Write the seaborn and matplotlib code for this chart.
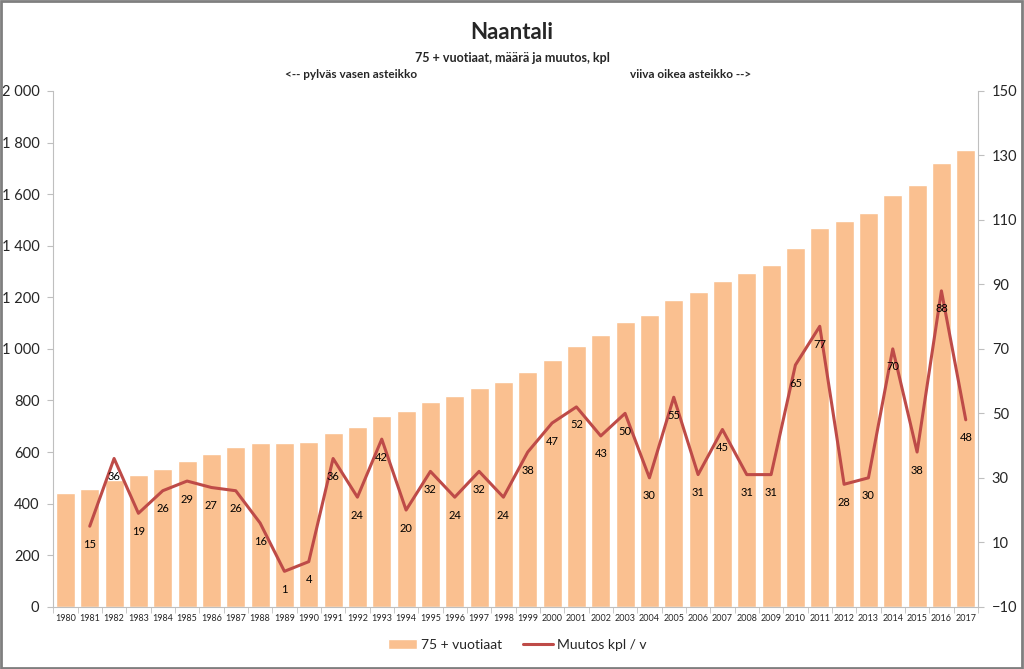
import matplotlib
matplotlib.use("Agg")
import matplotlib.pyplot as plt
import matplotlib.ticker as mticker
from matplotlib.patches import Rectangle
import seaborn as sns
import pandas as pd

# data
years = [str(y) for y in range(1980, 2018)]
count_75 = [440, 455, 491, 510, 536, 565, 592, 618, 634, 635,
            639, 675, 699, 741, 761, 793, 817, 849, 873, 911,
            958, 1010, 1053, 1103, 1133, 1188, 1219, 1264, 1295, 1326,
            1391, 1468, 1496, 1526, 1596, 1634, 1722, 1770]
change_years = years[1:]
change = [15, 36, 19, 26, 29, 27, 26, 16, 1, 4,
          36, 24, 42, 20, 32, 24, 32, 24, 38, 47,
          52, 43, 50, 30, 55, 31, 45, 31, 31, 65,
          77, 28, 30, 70, 38, 88, 48]

bar_color = '#FAC090'
line_color = '#BE4B48'
grey = '#BFBFBF'

sns.set_style("white")
plt.rcParams['font.family'] = ['Lato', 'DejaVu Sans']

df_bar = pd.DataFrame({'year': years, 'count': count_75})
df_line = pd.DataFrame({'pos': [years.index(y) for y in change_years], 'change': change})

fig = plt.figure(figsize=(10.24, 6.69), dpi=100)
ax = fig.add_axes([0.052, 0.093, 0.903, 0.771])

sns.barplot(data=df_bar, x='year', y='count', color=bar_color, width=0.78,
            saturation=1, ax=ax, label='75 + vuotiaat')
if ax.get_legend() is not None:
    ax.get_legend().remove()
ax.set_ylim(0, 2000)
ax.set_xlim(-0.5, len(years) - 0.5)
ax.set_yticks(range(0, 2001, 200))
ax.yaxis.set_major_formatter(mticker.FuncFormatter(lambda v, p: f"{int(v):,}".replace(',', ' ')))
ax.set_xlabel('')
ax.set_ylabel('')
ax.tick_params(axis='y', labelsize=10.5, length=4, color=grey, direction='out', left=True, pad=6)
ax.tick_params(axis='x', labelsize=6.5, length=0, pad=5)
ax.set_xticks([i + 0.5 for i in range(-1, len(years))], minor=True)
ax.tick_params(axis='x', which='minor', length=4, color=grey, bottom=True, direction='out')

ax2 = ax.twinx()
sns.lineplot(data=df_line, x='pos', y='change', color=line_color, linewidth=2.2,
             ax=ax2, label='Muutos kpl / v', legend=False)
ax2.set_ylim(-10, 150)
ax2.set_yticks(range(-10, 151, 20))
ax2.set_ylabel('')
ax2.tick_params(axis='y', labelsize=10.5, length=4, color=grey, direction='out', right=True, pad=6)
for p, v in zip(df_line['pos'], df_line['change']):
    ax2.annotate(str(v), (p, v), xytext=(0, -13), textcoords='offset points',
                 ha='center', va='center', fontsize=8, color='black')

for a in (ax, ax2):
    for s in a.spines.values():
        s.set_visible(False)
ax.spines['left'].set_visible(True)
ax.spines['left'].set_color(grey)
ax.spines['bottom'].set_visible(True)
ax.spines['bottom'].set_color(grey)
ax2.spines['right'].set_visible(True)
ax2.spines['right'].set_color(grey)

# legend
h1, l1 = ax.get_legend_handles_labels()
h2, l2 = ax2.get_legend_handles_labels()
fig.legend(h1 + h2, l1 + l2, loc='center', bbox_to_anchor=(0.505, 0.036), ncol=2,
           frameon=False, fontsize=10, handlelength=2.1, handletextpad=0.3,
           columnspacing=1.5)

# titles
fig.text(0.5, 0.952, 'Naantali', ha='center', va='center', fontsize=16, fontweight='bold')
fig.text(0.5, 0.913, '75 + vuotiaat, määrä ja muutos, kpl', ha='center', va='center',
         fontsize=9, fontweight='bold')
fig.text(0.343, 0.888, '<-- pylväs vasen asteikko', ha='center', va='center',
         fontsize=8.5, fontweight='bold')
fig.text(0.674, 0.888, 'viiva oikea asteikko -->', ha='center', va='center',
         fontsize=8.5, fontweight='bold')

# outer frame
fig.patches.append(Rectangle((0.001, 0.002), 0.997, 0.996, transform=fig.transFigure,
                             fill=False, edgecolor='#7F7F7F', linewidth=2))

fig.savefig('out.png', dpi=100)
